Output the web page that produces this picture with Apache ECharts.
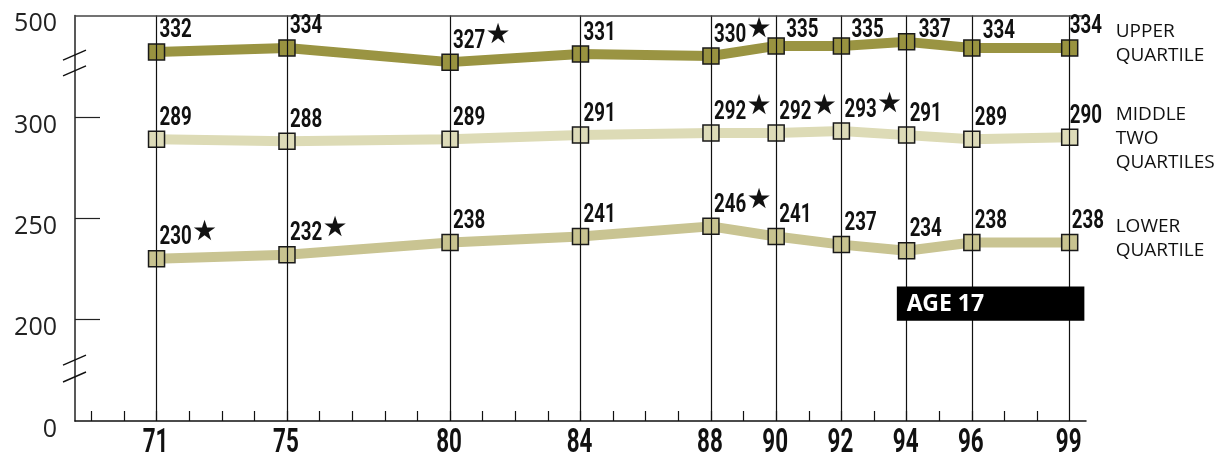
<!DOCTYPE html>
<html>
<head>
<meta charset="utf-8">
<script src="https://cdn.jsdelivr.net/npm/echarts@6/dist/echarts.min.js"></script>
<style>
html, body { margin: 0; padding: 0; background: #fff; }
#chart1 { width: 1231px; height: 462px; }
</style>
</head>
<body>
<div id="chart1"></div>
<script>
// assessment years (19xx)
var years = [71, 75, 80, 84, 88, 90, 92, 94, 96, 99];
// scores by quartile group
var upper = [332, 334, 327, 331, 330, 335, 335, 337, 334, 334];
var middle = [289, 288, 289, 291, 292, 292, 293, 291, 289, 290];
var lower = [230, 232, 238, 241, 246, 241, 237, 234, 238, 238];
// 1 = marked with a star (significant difference)
var upperStar = [0, 0, 1, 0, 1, 0, 0, 0, 0, 0];
var middleStar = [0, 0, 0, 0, 1, 1, 1, 0, 0, 0];
var lowerStar = [1, 1, 0, 0, 1, 0, 0, 0, 0, 0];
// y axis is broken: bottom shows 0, top shows 500
var yTickValues = [150, 200, 250, 300, 350];
var yTickLabels = ['0', '200', '250', '300', '500'];
var seriesNames = ['UPPER\nQUARTILE', 'MIDDLE\nTWO\nQUARTILES', 'LOWER\nQUARTILE'];
var panelTitle = 'AGE 17';

// label nudges (px) where the original moves a label off its default spot
var upperNudge = { 5: [7, 6], 6: [7, 6], 7: [9, 10], 8: [8, 5], 9: [-3, 0] };
var middleNudge = { 9: [-3, 0] };
var lowerNudge = { 9: [-1, 0] };

var minorYears = [];
for (var y = 69; y <= 98; y++) minorYears.push(y);

var dom = document.getElementById('chart1');
var myChart = echarts.init(dom);

var numFont = 'Roboto, "Noto Sans", sans-serif';
var numScale = 0.72;

function makeSeries(name, values, color, fill) {
  return {
    name: name,
    type: 'line',
    data: years.map(function (yr, i) { return [yr, values[i]]; }),
    symbol: 'rect',
    symbolSize: 16,
    z: 3,
    lineStyle: { color: color, width: 10 },
    itemStyle: { color: fill, borderColor: '#1a1a1a', borderWidth: 1.5 },
    label: { show: false },
    emphasis: { disabled: true },
    animation: false
  };
}

var option = {
  animation: false,
  grid: { left: 75, right: 145, top: 15.5, bottom: 41 },
  xAxis: {
    type: 'value',
    min: 68.5,
    max: 99.5,
    axisLine: { lineStyle: { color: '#111', width: 1.5 } },
    axisTick: {
      show: true,
      inside: true,
      length: 10,
      customValues: minorYears,
      lineStyle: { color: '#111', width: 1.2 }
    },
    axisLabel: { show: false },
    splitLine: { show: false }
  },
  yAxis: {
    type: 'value',
    min: 150,
    max: 350,
    interval: 50,
    axisLine: { show: true, lineStyle: { color: '#222', width: 1.5 } },
    axisTick: {
      show: true,
      inside: true,
      length: 25,
      customValues: [200, 250, 300],
      lineStyle: { color: '#222', width: 1.2 }
    },
    axisLabel: {
      customValues: yTickValues,
      margin: 18,
      verticalAlign: 'top',
      lineHeight: 17,
      fontFamily: '"Open Sans", sans-serif',
      fontSize: 25,
      color: '#222',
      formatter: function (v) {
        return yTickLabels[yTickValues.indexOf(v)];
      }
    },
    splitLine: { show: false }
  },
  series: [
    {
      name: 'grid',
      type: 'line',
      data: [],
      z: 1,
      silent: true,
      markLine: {
        silent: true,
        symbol: 'none',
        label: { show: false },
        lineStyle: { color: '#111', width: 1.2, type: 'solid' },
        data: years.map(function (yr) { return { xAxis: yr }; })
          .concat([{ yAxis: 350, lineStyle: { color: '#444', width: 1.5 } }])
      }
    },
    makeSeries(seriesNames[0], upper, '#9a9442', '#999340'),
    makeSeries(seriesNames[1], middle, '#dddbb6', '#dddbb8'),
    makeSeries(seriesNames[2], lower, '#c9c492', '#c8c390')
  ]
};

myChart.setOption(option);

// condensed value labels, year labels, side labels, title box, axis breaks
function place() {
  var els = [];
  var groups = [
    [upper, upperStar, upperNudge],
    [middle, middleStar, middleNudge],
    [lower, lowerStar, lowerNudge]
  ];
  groups.forEach(function (g) {
    var vals = g[0], stars = g[1], nudge = g[2];
    years.forEach(function (yr, i) {
      var p = myChart.convertToPixel({ gridIndex: 0 }, [yr, vals[i]]);
      var n = nudge[i] || [0, 0];
      var tx = p[0] + 3 + n[0];
      var ty = p[1] - 21 + n[1];
      var txt = String(vals[i]);
      els.push({
        type: 'text',
        x: tx,
        y: ty,
        scaleX: numScale,
        z: 12,
        silent: true,
        style: {
          text: txt,
          fontFamily: numFont,
          fontWeight: 'bold',
          fontSize: 26,
          fill: '#111',
          align: 'left',
          verticalAlign: 'middle'
        }
      });
      if (stars[i]) {
        var w = txt.length * 0.562 * 26 * numScale;
        els.push({
          type: 'text',
          x: tx + w + 1,
          y: ty - 5,
          z: 12,
          silent: true,
          style: {
            text: '\u2605',
            fontFamily: '"DejaVu Sans", sans-serif',
            fontSize: 28,
            fill: '#111',
            align: 'left',
            verticalAlign: 'middle'
          }
        });
      }
    });
  });

  var axisY = myChart.convertToPixel({ yAxisIndex: 0 }, 150);
  years.forEach(function (yr) {
    els.push({
      type: 'text',
      x: myChart.convertToPixel({ xAxisIndex: 0 }, yr) - 1,
      y: axisY + 23,
      scaleX: 0.68,
      silent: true,
      style: {
        text: String(yr),
        fontFamily: numFont,
        fontWeight: 'bold',
        fontSize: 33,
        fill: '#111',
        align: 'center',
        verticalAlign: 'middle'
      }
    });
  });

  var lastYear = years[years.length - 1];
  var labelX = myChart.convertToPixel({ xAxisIndex: 0 }, lastYear) + 46;
  var tops = [
    myChart.convertToPixel({ yAxisIndex: 0 }, 350) + 4.5,
    myChart.convertToPixel({ yAxisIndex: 0 }, 300) - 14,
    myChart.convertToPixel({ yAxisIndex: 0 }, 250) - 3.5
  ];
  seriesNames.forEach(function (n, i) {
    els.push({
      type: 'text',
      x: labelX,
      y: tops[i],
      silent: true,
      style: {
        text: n,
        fontFamily: '"Open Sans", sans-serif',
        fontSize: 19,
        lineHeight: 24,
        fill: '#111',
        verticalAlign: 'top'
      }
    });
  });

  var bx0 = myChart.convertToPixel({ xAxisIndex: 0 }, 93.7);
  var bx1 = myChart.convertToPixel({ xAxisIndex: 0 }, 99.45);
  var by0 = myChart.convertToPixel({ yAxisIndex: 0 }, 216.3);
  var by1 = myChart.convertToPixel({ yAxisIndex: 0 }, 199.5);
  els.push({
    type: 'rect',
    shape: { x: bx0, y: by0, width: bx1 - bx0, height: by1 - by0 },
    style: { fill: '#000' },
    z: 10
  });
  els.push({
    type: 'text',
    x: bx0 + 10,
    y: (by0 + by1) / 2 + 1,
    z: 11,
    style: {
      text: panelTitle,
      fontFamily: '"Noto Sans", sans-serif',
      fontWeight: 'bold',
      fontSize: 23,
      fill: '#fff',
      verticalAlign: 'middle'
    }
  });

  var ax = myChart.convertToPixel({ xAxisIndex: 0 }, 68.5);
  [330.5, 322.7, 180, 171.7].forEach(function (v) {
    var cy = myChart.convertToPixel({ yAxisIndex: 0 }, v);
    els.push({
      type: 'line',
      z: 10,
      silent: true,
      shape: { x1: ax - 12, y1: cy + 5, x2: ax + 11, y2: cy - 5 },
      style: { stroke: '#111', lineWidth: 1.4 }
    });
  });
  myChart.setOption({ graphic: { elements: els } });
}
place();
</script>
</body>
</html>
